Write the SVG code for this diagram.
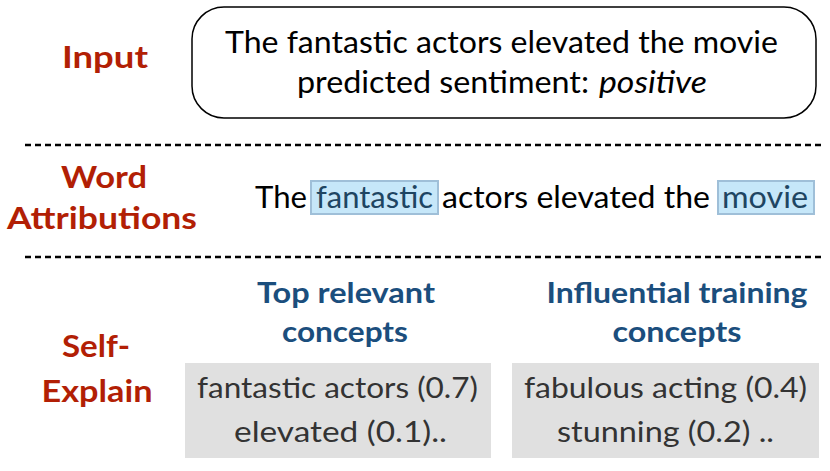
<svg xmlns="http://www.w3.org/2000/svg" width="830" height="471" viewBox="0 0 830 471">
<style>
.lbl{font-family:Lato,"Open Sans","Liberation Sans",sans-serif;font-weight:bold;fill:#b21f05;font-size:30px;text-anchor:middle}
.hd{font-family:Lato,"Open Sans","Liberation Sans",sans-serif;font-weight:bold;fill:#1b4e7d;font-size:29px;text-anchor:middle}
.tx{font-family:Lato,"Open Sans","Liberation Sans",sans-serif;fill:#000;font-size:30px}
.gt{font-family:Lato,"Open Sans","Liberation Sans",sans-serif;fill:#333;font-size:29px}
.hl{fill:#c6e7f9;stroke:#9fbfd8;stroke-width:2}
.ht{font-family:Lato,"Open Sans","Liberation Sans",sans-serif;fill:#1e4562;font-size:30px}
.gb{fill:#e0e0e0}
.dash{stroke:#000;stroke-width:2.5;stroke-dasharray:6 4;fill:none}
</style>
<rect width="830" height="471" fill="#fff"/>
<g id="labels">
<text class="lbl" x="105" y="68" textLength="86" lengthAdjust="spacingAndGlyphs">Input</text>
<text class="lbl" x="104" y="188" textLength="86" lengthAdjust="spacingAndGlyphs">Word</text>
<text class="lbl" x="102" y="229" textLength="190" lengthAdjust="spacingAndGlyphs">Attributions</text>
<text class="lbl" x="96" y="357" textLength="68" lengthAdjust="spacingAndGlyphs">Self-</text>
<text class="lbl" x="97" y="402" textLength="111" lengthAdjust="spacingAndGlyphs">Explain</text>
</g>
<g id="separators">
<line class="dash" x1="25" y1="145" x2="822" y2="145"/>
<line class="dash" x1="25" y1="257" x2="822" y2="257"/>
</g>
<g id="input">
<rect x="192" y="7" width="624" height="111" rx="32" ry="32" fill="#fff" stroke="#000" stroke-width="1.5"/>
<text class="tx" x="225" y="53" textLength="553" lengthAdjust="spacingAndGlyphs">The fantastic actors elevated the movie</text>
<text class="tx" x="297" y="93" textLength="292" lengthAdjust="spacingAndGlyphs">predicted sentiment:</text>
<text class="tx" x="599" y="93" font-style="italic" textLength="108" lengthAdjust="spacingAndGlyphs">positive</text>
</g>
<g id="attributions">
<rect class="hl" x="311" y="181" width="127" height="33"/>
<rect class="hl" x="718" y="181" width="96" height="33"/>
<text class="tx" x="255" y="208" textLength="52" lengthAdjust="spacingAndGlyphs">The</text>
<text class="ht" x="316" y="208" textLength="117" lengthAdjust="spacingAndGlyphs">fantastic</text>
<text class="tx" x="442" y="208" textLength="268" lengthAdjust="spacingAndGlyphs">actors elevated the</text>
<text class="ht" x="722" y="208" textLength="86" lengthAdjust="spacingAndGlyphs">movie</text>
</g>
<g id="top-concepts">
<text class="hd" x="346" y="303" textLength="178" lengthAdjust="spacingAndGlyphs">Top relevant</text>
<text class="hd" x="345" y="342" textLength="126" lengthAdjust="spacingAndGlyphs">concepts</text>
<rect class="gb" x="185" y="363" width="306" height="95"/>
<text class="gt" x="197" y="398" textLength="281" lengthAdjust="spacingAndGlyphs">fantastic actors (0.7)</text>
<text class="gt" x="234" y="442" textLength="213" lengthAdjust="spacingAndGlyphs">elevated (0.1)..</text>
</g>
<g id="influential-concepts">
<text class="hd" x="677" y="303" textLength="261" lengthAdjust="spacingAndGlyphs">Influential training</text>
<text class="hd" x="677" y="342" textLength="129" lengthAdjust="spacingAndGlyphs">concepts</text>
<rect class="gb" x="512" y="363" width="307" height="95"/>
<text class="gt" x="524" y="398" textLength="283" lengthAdjust="spacingAndGlyphs">fabulous acting (0.4)</text>
<text class="gt" x="557" y="442" textLength="217" lengthAdjust="spacingAndGlyphs">stunning (0.2) ..</text>
</g>
</svg>
